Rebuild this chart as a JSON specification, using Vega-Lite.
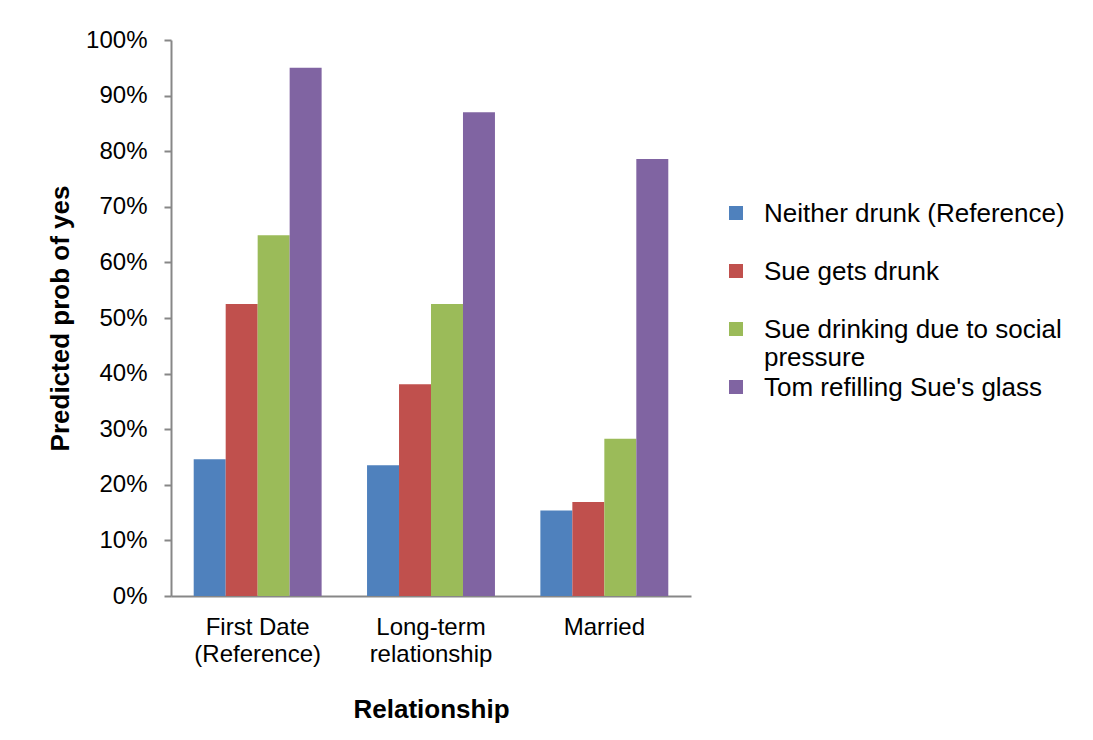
{
  "$schema": "https://vega.github.io/schema/vega-lite/v6.json",
  "autosize": {"type": "none"},
  "padding": {"left": 171, "top": 40, "right": 402, "bottom": 144},
  "width": 520,
  "height": 556,
  "background": "white",
  "config": {
    "font": "Liberation Sans",
    "view": {"stroke": null}
  },
  "data": {
    "values": [
      {"relationship": "First Date (Reference)", "scenario": "Neither drunk (Reference)", "prob": 0.246},
      {"relationship": "First Date (Reference)", "scenario": "Sue gets drunk", "prob": 0.525},
      {"relationship": "First Date (Reference)", "scenario": "Sue drinking due to social pressure", "prob": 0.649},
      {"relationship": "First Date (Reference)", "scenario": "Tom refilling Sue's glass", "prob": 0.950},
      {"relationship": "Long-term relationship", "scenario": "Neither drunk (Reference)", "prob": 0.235},
      {"relationship": "Long-term relationship", "scenario": "Sue gets drunk", "prob": 0.381},
      {"relationship": "Long-term relationship", "scenario": "Sue drinking due to social pressure", "prob": 0.525},
      {"relationship": "Long-term relationship", "scenario": "Tom refilling Sue's glass", "prob": 0.870},
      {"relationship": "Married", "scenario": "Neither drunk (Reference)", "prob": 0.154},
      {"relationship": "Married", "scenario": "Sue gets drunk", "prob": 0.169},
      {"relationship": "Married", "scenario": "Sue drinking due to social pressure", "prob": 0.283},
      {"relationship": "Married", "scenario": "Tom refilling Sue's glass", "prob": 0.786}
    ]
  },
  "mark": {"type": "bar"},
  "encoding": {
    "x": {
      "field": "relationship",
      "type": "nominal",
      "sort": null,
      "scale": {"paddingInner": 0, "paddingOuter": 0},
      "axis": {
        "title": "Relationship",
        "titleFont": "Liberation Sans",
        "titleFontSize": 26,
        "titleFontWeight": "bold",
        "titleColor": "black",
        "titlePadding": 30,
        "labelAngle": 0,
        "labelFontSize": 24,
        "labelColor": "black",
        "labelPadding": 19,
        "labelLineHeight": 27,
        "labelExpr": "datum.value == 'First Date (Reference)' ? ['First Date', '(Reference)'] : datum.value == 'Long-term relationship' ? ['Long-term', 'relationship'] : datum.value",
        "ticks": false,
        "domainColor": "#878787",
        "domainWidth": 2
      }
    },
    "xOffset": {
      "field": "scenario",
      "type": "nominal",
      "sort": null,
      "scale": {"paddingInner": 0, "paddingOuter": 0.71}
    },
    "y": {
      "field": "prob",
      "type": "quantitative",
      "scale": {"domain": [0, 1], "nice": false},
      "axis": {
        "title": "Predicted prob of yes",
        "titleFont": "Liberation Sans",
        "titleFontSize": 26,
        "titleFontWeight": "bold",
        "titleColor": "black",
        "titlePadding": 12,
        "values": [0, 0.1, 0.2, 0.3, 0.4, 0.5, 0.6, 0.7, 0.8, 0.9, 1],
        "format": ".0%",
        "labelFontSize": 24,
        "labelColor": "black",
        "labelPadding": 17,
        "tickSize": 7,
        "tickColor": "#878787",
        "tickWidth": 2,
        "domainColor": "#878787",
        "domainWidth": 2,
        "grid": false
      }
    },
    "color": {
      "field": "scenario",
      "type": "nominal",
      "sort": null,
      "scale": {
        "domain": ["Neither drunk (Reference)", "Sue gets drunk", "Sue drinking due to social pressure", "Tom refilling Sue's glass"],
        "range": ["#4F81BD", "#C0504D", "#9BBB59", "#8064A2"]
      },
      "legend": {
        "title": null,
        "orient": "none",
        "legendX": 552,
        "legendY": 160,
        "padding": 0,
        "symbolType": "square",
        "symbolSize": 196,
        "symbolStrokeWidth": 0,
        "symbolOpacity": 1,
        "labelFontSize": 26,
        "labelColor": "black",
        "labelOffset": 15,
        "labelLimit": 400,
        "labelLineHeight": 30,
        "labelBaseline": "alphabetic",
        "rowPadding": 3,
        "labelExpr": "datum.value == 'Sue drinking due to social pressure' ? ['Sue drinking due to social', 'pressure'] : [datum.value, '']",
        "encode": {
          "labels": {"update": {"dy": {"value": 9}}}
        }
      }
    }
  }
}
